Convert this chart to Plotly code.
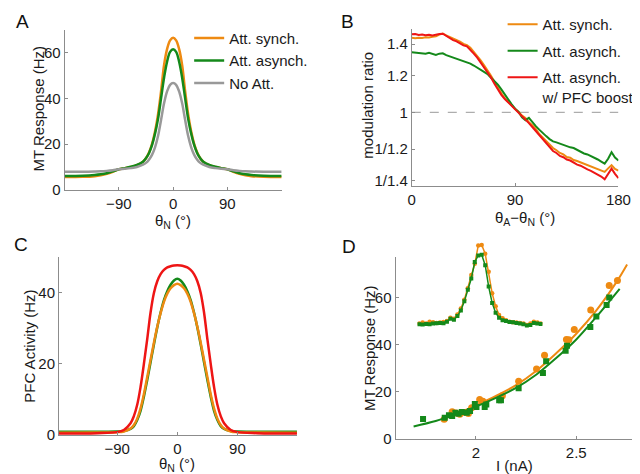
import plotly.graph_objects as go

# ---------------- Data ----------------
# Panel A: MT tuning curves
theta_A = [-180, -150, -130, -120, -110, -100, -90, -80, -70, -60, -50, -45, -40, -35, -30, -25, -20, -15, -10, -5, 0,
           5, 10, 15, 20, 25, 30, 35, 40, 45, 50, 60, 70, 80, 90, 100, 110, 120, 130, 150, 180]
A_synch = [5.6, 5.7, 6.0, 6.4, 7.0, 7.9, 9.0, 9.5, 10.0, 10.8, 12.3, 13.8, 16.3, 20.0, 25.5, 33.0, 43.0, 54.5, 61.5, 65.3, 66.5,
           65.3, 61.5, 54.5, 43.0, 33.0, 25.5, 20.0, 16.3, 13.8, 12.3, 10.8, 10.0, 9.5, 9.0, 7.9, 7.0, 6.4, 6.0, 5.7, 5.6]
A_asynch = [6.1, 6.2, 6.5, 6.8, 7.3, 8.1, 9.0, 9.5, 10.1, 10.9, 12.3, 13.8, 16.0, 19.5, 24.5, 31.0, 40.0, 49.0, 56.0, 60.3, 61.4,
            60.3, 56.0, 49.0, 40.0, 31.0, 24.5, 19.5, 16.0, 13.8, 12.3, 10.9, 10.1, 9.5, 9.0, 8.1, 7.3, 6.8, 6.5, 6.2, 6.1]
A_noatt = [7.9, 7.9, 8.0, 8.1, 8.3, 8.6, 9.0, 9.2, 9.5, 10.0, 11.0, 11.8, 13.2, 15.3, 18.6, 23.5, 30.5, 37.8, 43.0, 45.9, 46.7,
           45.9, 43.0, 37.8, 30.5, 23.5, 18.6, 15.3, 13.2, 11.8, 11.0, 10.0, 9.5, 9.2, 9.0, 8.6, 8.3, 8.1, 8.0, 7.9, 7.9]

# Panel B: modulation ratio vs thetaA - thetaN
theta_B = list(range(0, 181, 3))
B_synch = [1.445, 1.442, 1.446, 1.444, 1.449, 1.447, 1.452, 1.455, 1.468, 1.476, 1.462, 1.451, 1.440, 1.428, 1.418, 1.402,
           1.394, 1.375, 1.348, 1.322, 1.292, 1.262, 1.232, 1.198, 1.163, 1.128, 1.098, 1.072, 1.052, 1.034, 1.016, 1.003,
           0.984, 0.972, 0.952, 0.938, 0.921, 0.898, 0.882, 0.866, 0.852, 0.838, 0.829, 0.818, 0.812, 0.802, 0.799, 0.790,
           0.786, 0.781, 0.777, 0.770, 0.766, 0.760, 0.757, 0.752, 0.745, 0.758, 0.770, 0.756, 0.750]
B_asynch = [1.346, 1.343, 1.340, 1.338, 1.335, 1.341, 1.332, 1.328, 1.336, 1.338, 1.326, 1.318, 1.312, 1.304, 1.296, 1.288,
            1.281, 1.272, 1.260, 1.246, 1.236, 1.220, 1.208, 1.186, 1.166, 1.146, 1.120, 1.092, 1.062, 1.040, 1.018, 1.002,
            0.975, 0.962, 0.973, 0.952, 0.934, 0.918, 0.902, 0.889, 0.876, 0.866, 0.862, 0.856, 0.852, 0.845, 0.841, 0.838,
            0.830, 0.822, 0.816, 0.812, 0.806, 0.800, 0.792, 0.784, 0.776, 0.795, 0.821, 0.800, 0.788]
B_boost = [1.470, 1.472, 1.465, 1.468, 1.463, 1.466, 1.462, 1.468, 1.472, 1.474, 1.458, 1.445, 1.428, 1.420, 1.405, 1.392,
           1.385, 1.362, 1.336, 1.310, 1.280, 1.250, 1.220, 1.188, 1.152, 1.120, 1.090, 1.068, 1.050, 1.032, 1.015, 1.000,
           0.982, 0.968, 0.948, 0.930, 0.912, 0.892, 0.874, 0.858, 0.840, 0.826, 0.818, 0.806, 0.801, 0.792, 0.788, 0.779,
           0.772, 0.768, 0.760, 0.754, 0.749, 0.742, 0.738, 0.728, 0.718, 0.735, 0.757, 0.738, 0.722]
B_ref_x = [0, 180]
B_ref_y = [1, 1]
B_tickvals = [1 / 1.4, 1 / 1.2, 1, 1.2, 1.4]
B_ticktext = ["1/1.4", "1/1.2", "1", "1.2", "1.4"]

# Panel C: PFC activity
theta_C = [-180, -120, -90, -80, -70, -65, -60, -55, -50, -45, -40, -35, -30, -25, -20, -15, -10, -5, 0,
           5, 10, 15, 20, 25, 30, 35, 40, 45, 50, 55, 60, 65, 70, 80, 90, 120, 180]
C_synch = [0.65, 0.7, 0.8, 1.0, 1.8, 2.8, 4.6, 7.5, 11.5, 16.3, 21.2, 26.0, 30.5, 34.3, 37.5, 39.8, 41.3, 42.2, 42.6,
           42.2, 41.3, 39.8, 37.5, 34.3, 30.5, 26.0, 21.2, 16.3, 11.5, 7.5, 4.6, 2.8, 1.8, 1.0, 0.8, 0.7, 0.65]
C_asynch = [0.9, 0.9, 0.95, 1.1, 1.7, 2.5, 4.2, 6.8, 10.8, 15.5, 20.5, 25.5, 30.3, 34.5, 38.0, 40.5, 42.3, 43.5, 44.0,
            43.5, 42.3, 40.5, 38.0, 34.5, 30.3, 25.5, 20.5, 15.5, 10.8, 6.8, 4.2, 2.5, 1.7, 1.1, 0.95, 0.9, 0.9]
C_boost = [0.4, 0.5, 0.8, 1.4, 3.3, 5.3, 8.5, 13.5, 20.0, 27.0, 34.5, 40.0, 43.3, 45.3, 46.5, 47.2, 47.5, 47.7, 47.8,
           47.7, 47.5, 47.2, 46.5, 45.3, 43.3, 40.0, 34.5, 27.0, 20.0, 13.5, 8.5, 5.3, 3.3, 1.4, 0.8, 0.5, 0.4]

# Panel D: MT response vs input current
D_synch_I = [1.842, 1.882, 1.900, 1.920, 1.946, 1.963, 1.979, 2.019, 2.035, 2.132, 2.213, 2.302, 2.342, 2.451, 2.463,
             2.490, 2.572, 2.664, 2.705]
D_synch_R = [8.3, 11.5, 11.0, 10.5, 11.2, 10.8, 13.2, 16.7, 16.0, 18.3, 24.5, 29.7, 35.5, 42.2, 42.1,
             46.4, 54.7, 65.1, 67.2]
D_asynch_I = [1.737, 1.845, 1.866, 1.882, 1.898, 1.914, 1.930, 1.955, 1.971, 1.995, 2.003, 2.044, 2.052, 2.116, 2.125,
              2.213, 2.334, 2.350, 2.447, 2.454, 2.570, 2.600, 2.651, 2.664]
D_asynch_R = [8.4, 9.0, 10.0, 9.7, 11.1, 10.7, 11.4, 11.1, 11.8, 14.8, 13.5, 13.5, 14.6, 16.4, 16.4,
              21.5, 28.0, 32.9, 37.4, 39.5, 47.5, 51.9, 56.8, 60.0]
D_fit_synch_I = [1.83, 1.9, 2.0, 2.1, 2.2, 2.3, 2.4, 2.5, 2.6, 2.7, 2.753]
D_fit_synch_R = [8.2, 10.5, 14.2, 18.2, 22.8, 28.8, 36.3, 44.6, 54.5, 66.5, 74.0]
D_fit_asynch_I = [1.69, 1.8, 1.9, 2.0, 2.1, 2.2, 2.3, 2.4, 2.5, 2.6, 2.716]
D_fit_asynch_R = [5.3, 7.6, 10.4, 13.7, 17.4, 21.6, 27.2, 34.3, 42.2, 51.8, 63.7]

# Panel D inset: tuning curves with markers
theta_inset = list(range(-175, 176, 10))
inset_synch = [6.0, 6.8, 6.0, 7.5, 7.0, 6.5, 6.8, 7.3, 8.0, 10.6, 9.8, 13.1, 17.6, 24.5, 33.3, 43.5, 52.3, 66.3,
               66.8, 60.0, 46.0, 29.5, 19.4, 12.6, 10.1, 8.5, 7.5, 7.0, 6.8, 6.5, 6.0, 5.0, 6.0, 7.5, 6.8, 6.0]
inset_asynch = [5.5, 5.2, 5.7, 5.5, 6.0, 6.3, 6.5, 6.3, 7.5, 9.8, 9.0, 11.8, 16.1, 23.2, 32.1, 40.9, 53.6, 58.7,
                59.2, 51.1, 34.6, 22.0, 14.4, 10.6, 8.5, 8.0, 7.3, 7.0, 6.5, 6.0, 5.5, 4.5, 5.0, 6.5, 6.0, 5.7]

ORANGE = "#EE8A12"
GREEN = "#14891A"
GRAY = "#999999"
RED = "#EE1515"
AXC = "#8C8C8C"
FONT = "Liberation Sans, Arial, sans-serif"

W, H = 640, 474


def px(x):
    return x / W


def py(y):
    return 1 - y / H


fig = go.Figure()

# Panel A
fig.add_trace(go.Scatter(x=theta_A, y=A_synch, mode="lines", line=dict(color=ORANGE, width=2.5, shape="spline"),
                         name="Att. synch.", xaxis="x", yaxis="y", legend="legend"))
fig.add_trace(go.Scatter(x=theta_A, y=A_asynch, mode="lines", line=dict(color=GREEN, width=2.5, shape="spline"),
                         name="Att. asynch.", xaxis="x", yaxis="y", legend="legend"))
fig.add_trace(go.Scatter(x=theta_A, y=A_noatt, mode="lines", line=dict(color=GRAY, width=2.5, shape="spline"),
                         name="No Att.", xaxis="x", yaxis="y", legend="legend"))

# Panel B
fig.add_trace(go.Scatter(x=B_ref_x, y=B_ref_y, mode="lines", line=dict(color="#999999", width=1, dash="dash"),
                         showlegend=False, xaxis="x2", yaxis="y2"))
fig.add_trace(go.Scatter(x=theta_B, y=B_synch, mode="lines", line=dict(color=ORANGE, width=2),
                         name="Att. synch.", xaxis="x2", yaxis="y2", legend="legend2", legendgroup="b1"))
fig.add_trace(go.Scatter(x=theta_B, y=B_asynch, mode="lines", line=dict(color=GREEN, width=2),
                         name="Att. asynch.", xaxis="x2", yaxis="y2", legend="legend2", legendgroup="b2"))
fig.add_trace(go.Scatter(x=theta_B, y=B_boost, mode="lines", line=dict(color=RED, width=2),
                         name="Att. asynch.<br>w/ PFC boost", xaxis="x2", yaxis="y2", legend="legend2",
                         legendgroup="b3"))

# Panel C
fig.add_trace(go.Scatter(x=theta_C, y=C_asynch, mode="lines", line=dict(color=GREEN, width=2.5, shape="spline"),
                         showlegend=False, xaxis="x3", yaxis="y3"))
fig.add_trace(go.Scatter(x=theta_C, y=C_synch, mode="lines", line=dict(color=ORANGE, width=2.5, shape="spline"),
                         showlegend=False, xaxis="x3", yaxis="y3"))
fig.add_trace(go.Scatter(x=theta_C, y=C_boost, mode="lines", line=dict(color=RED, width=2.5, shape="spline"),
                         showlegend=False, xaxis="x3", yaxis="y3"))

# Panel D
fig.add_trace(go.Scatter(x=D_fit_synch_I, y=D_fit_synch_R, mode="lines", line=dict(color=ORANGE, width=2, shape="spline"),
                         showlegend=False, xaxis="x4", yaxis="y4"))
fig.add_trace(go.Scatter(x=D_synch_I, y=D_synch_R, mode="markers", marker=dict(color=ORANGE, size=7, symbol="circle"),
                         showlegend=False, xaxis="x4", yaxis="y4"))
fig.add_trace(go.Scatter(x=D_fit_asynch_I, y=D_fit_asynch_R, mode="lines", line=dict(color=GREEN, width=2, shape="spline"),
                         showlegend=False, xaxis="x4", yaxis="y4"))
fig.add_trace(go.Scatter(x=D_asynch_I, y=D_asynch_R, mode="markers", marker=dict(color=GREEN, size=6, symbol="square"),
                         showlegend=False, xaxis="x4", yaxis="y4"))

# Inset
fig.add_trace(go.Scatter(x=theta_inset, y=inset_synch, mode="lines+markers", line=dict(color=ORANGE, width=1.5),
                         marker=dict(color=ORANGE, size=4.5, symbol="circle"),
                         showlegend=False, xaxis="x5", yaxis="y5"))
fig.add_trace(go.Scatter(x=theta_inset, y=inset_asynch, mode="lines+markers", line=dict(color=GREEN, width=1.5),
                         marker=dict(color=GREEN, size=4, symbol="square"),
                         showlegend=False, xaxis="x5", yaxis="y5"))

tickfont = dict(family=FONT, size=15, color="#1a1a1a")
common = dict(showline=True, linecolor=AXC, linewidth=1, ticks="inside", ticklen=3, tickcolor=AXC,
              showgrid=False, zeroline=False, tickfont=tickfont, mirror=False)

fig.update_layout(
    width=W, height=H, margin=dict(l=0, r=0, t=0, b=0),
    paper_bgcolor="white", plot_bgcolor="white",
    font=dict(family=FONT, size=15, color="#1a1a1a"),
    xaxis=dict(domain=[px(54), px(277)], range=[-180, 180], tickvals=[-90, 0, 90], ticktext=["\u221290", "0", "90"],
               anchor="y", **common),
    yaxis=dict(domain=[py(185), py(22)], range=[0, 70], tickvals=[0, 20, 40, 60], anchor="x", **common),
    xaxis2=dict(domain=[px(410.7), px(623)], range=[0, 180], tickvals=[0, 90, 180], anchor="y2", **common),
    yaxis2=dict(domain=[py(181), py(21.7)], type="log", range=[-0.158, 0.178], tickvals=B_tickvals,
                ticktext=B_ticktext, anchor="x2", **common),
    xaxis3=dict(domain=[px(48.3), px(292.7)], range=[-177, 179], tickvals=[-90, 0, 90],
                ticktext=["\u221290", "0", "90"], anchor="y3", **common),
    yaxis3=dict(domain=[py(434.3), py(253.7)], range=[0, 50], tickvals=[0, 20, 40], anchor="x3", **common),
    xaxis4=dict(domain=[px(394), px(639.5)], range=[1.6, 2.79], tickvals=[2, 2.5], ticktext=["2", "2.5"],
                anchor="y4", **common),
    yaxis4=dict(domain=[py(438.3), py(253.7)], range=[0, 77], tickvals=[0, 20, 40, 60], anchor="x4", **common),
    xaxis5=dict(domain=[px(416.5), px(545)], range=[-180, 180], visible=False, anchor="y5"),
    yaxis5=dict(domain=[py(328.9), py(236.8)], range=[0, 70], visible=False, anchor="x5"),
    legend=dict(x=px(182), y=py(14), xanchor="left", yanchor="top", bgcolor="rgba(0,0,0,0)",
                font=dict(family=FONT, size=15, color="#1a1a1a"), tracegroupgap=0),
    legend2=dict(x=px(504), y=1, xanchor="left", yanchor="top", bgcolor="rgba(0,0,0,0)",
                 font=dict(family=FONT, size=15, color="#1a1a1a"), tracegroupgap=4, valign="top"),
)

ann = []
# panel letters
for txt, x, y in [("A", 2, 14), ("B", 336, 14), ("C", 0, 241), ("D", 337, 243)]:
    ann.append(dict(text=txt, x=px(x), y=py(y), xref="paper", yref="paper", xanchor="left", yanchor="middle",
                    showarrow=False, font=dict(family=FONT, size=19, color="#111111")))
# axis titles
titles = [
    ("MT Response (Hz)", 27, 102, -90),
    ("\u03b8<sub>N</sub> (\u00b0)", 165, 217, 0),
    ("modulation ratio", 365, 99, -90),
    ("\u03b8<sub>A</sub>\u2212\u03b8<sub>N</sub> (\u00b0)", 527, 214, 0),
    ("PFC Activity (Hz)", 18, 344, -90),
    ("\u03b8<sub>N</sub> (\u00b0)", 170, 464, 0),
    ("MT Response (Hz)", 366.7, 346, -90),
    ("I (nA)", 516.7, 465, 0),
]
for txt, x, y, ang in titles:
    ann.append(dict(text=txt, x=px(x), y=py(y), xref="paper", yref="paper", xanchor="center", yanchor="middle",
                    textangle=ang, showarrow=False, font=dict(family=FONT, size=15, color="#1a1a1a")))
fig.update_layout(annotations=ann)

fig.write_html("out.html")
